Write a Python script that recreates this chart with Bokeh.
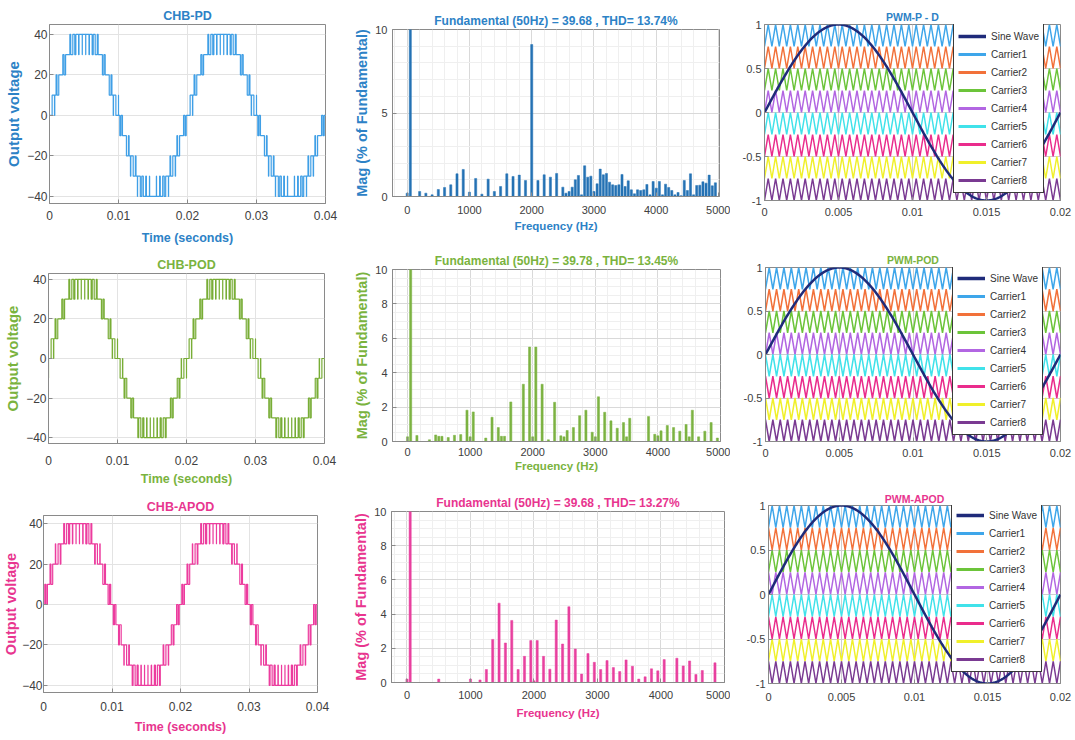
import numpy as np
from bokeh.plotting import figure
from bokeh.layouts import column, row
from bokeh.models import Range1d, FixedTicker, Legend, LegendItem
from bokeh.embed import file_html
from bokeh.resources import INLINE

# ------------------------------------------------------------------ data
chb_titles = ["CHB-PD", "CHB-POD", "CHB-APOD"]
fft_titles = ["Fundamental (50Hz) = 39.68 , THD= 13.74%",
              "Fundamental (50Hz) = 39.78 , THD= 13.45%",
              "Fundamental (50Hz) = 39.68 , THD= 13.27%"]
pwm_titles = ["PWM-P - D", "PWM-POD", "PWM-APOD"]

chb_xlabel = "Time (seconds)"
chb_ylabel = "Output voltage"
fft_xlabel = "Frequency (Hz)"
fft_ylabel = "Mag (% of Fundamental)"

chb_xticks = [0, 0.01, 0.02, 0.03, 0.04]
chb_xtick_labels = ["0", "0.01", "0.02", "0.03", "0.04"]
chb_yticks = [-40, -20, 0, 20, 40]
fft_xticks = [0, 1000, 2000, 3000, 4000, 5000]
fft1_yticks = [0, 5, 10]
fft23_yticks = [0, 2, 4, 6, 8, 10]
pwm_xticks = [0, 0.005, 0.01, 0.015, 0.02]
pwm_xtick_labels = ["0", "0.005", "0.01", "0.015", "0.02"]
pwm_yticks = [-1, -0.5, 0, 0.5, 1]
pwm_ytick_labels = ["-1", "-0.5", "0", "0.5", "1"]

# modulation parameters
fundamental_hz = 50
modulation_index = 1.0
carrier_hz = 2000
level_step_v = 10
sine_name = "Sine Wave"
carrier_names = ["Carrier1", "Carrier2", "Carrier3", "Carrier4",
                 "Carrier5", "Carrier6", "Carrier7", "Carrier8"]
carrier_top = [1.0, 0.75, 0.5, 0.25, 0.0, -0.25, -0.5, -0.75]
carrier_bottom = [0.75, 0.5, 0.25, 0.0, -0.25, -0.5, -0.75, -1.0]
# carrier phase (fraction of a carrier period) for each scheme
pd_phase = [0, 0, 0, 0, 0, 0, 0, 0]
pod_phase = [0, 0, 0, 0, 0.5, 0.5, 0.5, 0.5]
apod_phase = [0, 0.5, 0, 0.5, 0, 0.5, 0, 0.5]

# FFT spectra (% of fundamental)
fft_pd_freq = [0, 50, 200, 300, 400, 500, 600, 700, 800, 900, 1000, 1100, 1200, 1300,
               1400, 1500, 1600, 1700, 1800, 1900, 2000, 2100, 2200, 2300, 2400, 2500,
               2550, 2600, 2650, 2700, 2750, 2800, 2850, 2900, 2950, 3000, 3050, 3100,
               3150, 3200, 3250, 3300, 3350, 3400, 3450, 3500, 3550, 3600, 3650, 3700,
               3750, 3800, 3850, 3900, 3950, 4000, 4050, 4100, 4150, 4200, 4250, 4300,
               4350, 4400, 4450, 4500, 4550, 4600, 4650, 4700, 4750, 4800, 4850, 4900, 4950]
fft_pd_mag = [0.2, 100, 0.3, 0.2, 0.1, 0.42, 0.54, 0.7, 1.36, 1.62, 0.26, 1.08, 0.14, 1.04,
              0.3, 0.6, 1.36, 1.2, 1.28, 0.96, 9.1, 0.96, 1.3, 1.16, 1.38, 0.56,
              0.2, 0.3, 0.56, 1.0, 1.26, 0.1, 1.84, 1.16, 1.22, 0.3, 0.76, 1.64,
              1.3, 1.38, 0.86, 0.7, 0.66, 0.7, 1.32, 0.6, 0.94, 0.4, 0.16, 0.4,
              0.36, 0.4, 0.72, 0.1, 0.9, 0.5, 0.9, 0.1, 0.74, 0.54, 0.36, 0.1,
              0.24, 0.05, 0.96, 0.36, 1.36, 0.1, 0.66, 0.68, 0.88, 0.8, 1.28, 0.64, 0.82]

fft_pod_freq = [0, 50, 150, 350, 450, 500, 550, 650, 750, 850, 950, 1000, 1050, 1250,
                1350, 1450, 1500, 1550, 1650, 1850, 1950, 2000, 2050, 2150, 2250, 2350,
                2450, 2500, 2550, 2650, 2750, 2850, 2950, 3000, 3050, 3150, 3250, 3350,
                3450, 3500, 3550, 3850, 3950, 4000, 4050, 4150, 4250, 4350, 4450, 4500,
                4550, 4650, 4750, 4850, 4950]
fft_pod_mag = [0.27, 100, 0.35, 0.1, 0.38, 0.3, 0.3, 0.23, 0.36, 0.4, 1.82, 0.27, 1.72, 0.2,
               1.41, 0.81, 0.3, 0.3, 2.3, 3.33, 5.49, 0.27, 5.49, 3.33, 0.1, 2.28,
               0.33, 0.27, 0.64, 0.81, 1.5, 1.82, 0.54, 0.27, 2.6, 1.7, 1.2, 0.77,
               1.1, 0.27, 1.35, 1.45, 0.42, 0.33, 0.62, 0.93, 0.81, 0.6, 0.99, 0.27,
               1.82, 0.27, 0.6, 1.1, 0.2]

fft_apod_freq = [0, 50, 500, 1000, 1150, 1250, 1350, 1450, 1550, 1650, 1750, 1850, 1950,
                 2000, 2050, 2150, 2250, 2350, 2450, 2550, 2650, 2750, 2850, 2950, 3050,
                 3150, 3250, 3350, 3450, 3550, 3650, 3750, 3850, 3950, 4050, 4250, 4350,
                 4450, 4550, 4650, 4850]
fft_apod_mag = [0.2, 100, 0.2, 0.2, 0.15, 0.76, 2.52, 4.64, 2.31, 3.63, 0.76, 1.53, 2.45,
                0.1, 2.45, 1.53, 0.78, 3.65, 2.25, 4.43, 1.96, 0.49, 1.69, 1.18, 0.76,
                1.28, 0.87, 0.64, 1.32, 0.95, 0.2, 0.33, 0.8, 0.68, 1.34, 1.42, 0.97,
                1.26, 0.47, 0.7, 1.15]

# ------------------------------------------------------------------ styles
SANS = "Liberation Sans, Arial, sans-serif"
FRAME = "#8a8a8a"
TICK_TEXT = "#404040"
ROW_LINE = ["#3f9fe6", "#78ad36", "#ec3c9e"]
ROW_TEXT = ["#2d82c6", "#7ab33e", "#e8358f"]
ROW_BAR = ["#2572b4", "#7cb342", "#e8409f"]
SINE_COLOR = "#1f2b7a"
CARRIER_COLORS = ["#3ea6ea", "#f2713a", "#6cc43a", "#b266e2",
                  "#40e2ea", "#ea2c8c", "#f0f02a", "#7a3a92"]

COL_W = [350, 380, 343]
ROW_H = [250, 240, 248]
# per panel: frame left, frame top, frame width, frame height (inside its cell)
CHB_BOX = [(49, 24, 276, 179), (48, 23, 276, 170), (43, 25, 274, 177)]
FFT_BOX = [(42, 29, 327, 167), (42, 18, 328, 173), (41, 21, 333, 171)]
PWM_BOX = [(34, 24, 296, 176), (35, 16, 295, 175), (38, 13, 292, 180)]
CHB_YR = [(-43.5, 44.9), (-43, 43), (-43.5, 44)]
FFT_XR = [(-236, 5016), (-240, 5000), (-244, 5000)]
LEGEND_X = [189, 187, 183]
LEGEND_H = 168
# axis spacing: (tick-label standoff, axis-label standoff) per row
CHB_XSTAND = [(7, 8), (12, 4), (9, 6)]
CHB_YSTAND = [(2, 2), (2, 2), (1, 0)]
FFT_XSTAND = [(9, 3), (6, 1), (8, 5)]
PWM_XSTAND = [7, 7, 9]


def carrier_value(t, k, phases):
    x = t * carrier_hz + phases[k]
    tri = 1 - np.abs(2 * (x - np.floor(x)) - 1)
    return carrier_bottom[k] + (carrier_top[k] - carrier_bottom[k]) * tri


def chb_output(t, phases):
    ref = modulation_index * np.sin(2 * np.pi * fundamental_hz * t)
    count = np.zeros(t.shape, dtype=int)
    for k in range(len(carrier_top)):
        count += (ref > carrier_value(t, k, phases)).astype(int)
    return level_step_v * count - level_step_v * len(carrier_top) // 2


def base_fig(r, c, box, xr, yr, title, title_color, title_size, tick_size):
    fl, ft, fw, fh = box
    p = figure(width=COL_W[c], height=ROW_H[r], frame_align=False,
               min_border_left=fl, min_border_top=ft,
               min_border_right=COL_W[c] - fl - fw,
               min_border_bottom=ROW_H[r] - ft - fh,
               x_range=Range1d(*xr), y_range=Range1d(*yr),
               title=title, output_backend="svg", toolbar_location=None,
               background_fill_color="white", border_fill_color="white")
    p.outline_line_color = FRAME
    p.outline_line_width = 1
    p.title.align = "center"
    p.title.standoff = 3
    p.title.text_color = title_color
    p.title.text_font = SANS
    p.title.text_font_size = title_size
    p.title.text_font_style = "bold"
    for ax in (p.xaxis[0], p.yaxis[0]):
        ax.axis_line_color = FRAME
        ax.major_tick_in = 4
        ax.major_tick_out = 0
        ax.minor_tick_in = 0
        ax.minor_tick_out = 0
        ax.major_tick_line_color = FRAME
        ax.major_label_text_color = TICK_TEXT
        ax.major_label_text_font = SANS
        ax.major_label_text_font_size = tick_size
        ax.axis_label_text_font = SANS
        ax.axis_label_text_font_style = "bold"
        ax.axis_label_text_color = title_color
    p.yaxis.major_label_standoff = 3
    p.yaxis.axis_label_standoff = 2
    return p


def set_ticks(axis, grid, ticks, labels=None, minor=None):
    tk = FixedTicker(ticks=ticks, minor_ticks=minor or [])
    axis.ticker = tk
    grid.ticker = tk
    if labels is not None:
        axis.major_label_overrides = {t: l for t, l in zip(ticks, labels)}


phases_all = [pd_phase, pod_phase, apod_phase]
fft_freqs = [fft_pd_freq, fft_pod_freq, fft_apod_freq]
fft_mags = [fft_pd_mag, fft_pod_mag, fft_apod_mag]

rows = []
for r in range(3):
    phases = phases_all[r]

    # ---------------- CHB output voltage
    p1 = base_fig(r, 0, CHB_BOX[r], (0, 0.04), CHB_YR[r], chb_titles[r],
                  ROW_TEXT[r], "12.5px", "12px")
    t = np.linspace(0, 0.04, 40001)
    v = chb_output(t, phases)
    idx = np.concatenate([[0], np.flatnonzero(np.diff(v)) + 1, [len(t) - 1]])
    p1.step(t[idx], v[idx], mode="after", line_color=ROW_LINE[r], line_width=1.2)
    set_ticks(p1.xaxis[0], p1.xgrid[0], chb_xticks, chb_xtick_labels)
    set_ticks(p1.yaxis[0], p1.ygrid[0], chb_yticks)
    p1.xgrid.grid_line_color = "#e3e3e3"
    p1.ygrid.grid_line_color = "#e3e3e3"
    p1.xaxis.axis_label = chb_xlabel
    p1.yaxis.axis_label = chb_ylabel
    p1.xaxis.axis_label_text_font_size = "12.5px"
    p1.yaxis.axis_label_text_font_size = "15px" if r != 2 else "14.5px"
    p1.yaxis.major_label_standoff = CHB_YSTAND[r][0]
    p1.yaxis.axis_label_standoff = CHB_YSTAND[r][1]
    p1.xaxis.major_label_standoff = CHB_XSTAND[r][0]
    p1.xaxis.axis_label_standoff = CHB_XSTAND[r][1]

    # ---------------- FFT spectrum
    p2 = base_fig(r, 1, FFT_BOX[r], FFT_XR[r], (0, 10), fft_titles[r],
                  ROW_TEXT[r], "12px", "11px")
    p2.vbar(x=fft_freqs[r], top=fft_mags[r], width=34, bottom=0,
            fill_color=ROW_BAR[r], line_color=ROW_BAR[r], line_width=0.5)
    set_ticks(p2.xaxis[0], p2.xgrid[0], fft_xticks, None,
              list(range(-200, 5001, 200)))
    if r == 0:
        set_ticks(p2.yaxis[0], p2.ygrid[0], fft1_yticks, None,
                  [1, 2, 3, 4, 6, 7, 8, 9])
    else:
        set_ticks(p2.yaxis[0], p2.ygrid[0], fft23_yticks, None,
                  [0.5 * i for i in range(21) if i % 4 != 0])
    for g in (p2.xgrid, p2.ygrid):
        g.grid_line_color = "#d9d9d9"
        g.minor_grid_line_color = "#efefef"
    p2.xaxis.axis_label = fft_xlabel
    p2.yaxis.axis_label = fft_ylabel
    p2.xaxis.axis_label_text_font_size = "11.5px"
    p2.yaxis.axis_label_text_font_size = "14.5px"
    p2.xaxis.major_label_standoff = FFT_XSTAND[r][0]
    p2.xaxis.axis_label_standoff = FFT_XSTAND[r][1]
    p2.yaxis.major_label_standoff = 5

    # ---------------- PWM carriers and reference
    p3 = base_fig(r, 2, PWM_BOX[r], (0, 0.02), (-1, 1), pwm_titles[r],
                  ROW_TEXT[r], "10.5px", "11px")
    p3.title.standoff = 1 if r == 2 else 3
    p3.xaxis.major_label_standoff = PWM_XSTAND[r]
    tv = np.arange(int(round(0.02 * carrier_hz * 2)) + 1) / (2 * carrier_hz)
    ts = np.linspace(0, 0.02, 401)
    sine = modulation_index * np.sin(2 * np.pi * fundamental_hz * ts)
    carriers = [carrier_value(tv, k, phases) for k in range(len(carrier_names))]
    for k in range(len(carrier_names)):
        p3.line(tv, carriers[k], line_color=CARRIER_COLORS[k], line_width=1.5)
    p3.line(ts, sine, line_color=SINE_COLOR, line_width=2.5)
    set_ticks(p3.xaxis[0], p3.xgrid[0], pwm_xticks, pwm_xtick_labels)
    set_ticks(p3.yaxis[0], p3.ygrid[0], pwm_yticks, pwm_ytick_labels)
    p3.xgrid.grid_line_color = "#cfcfcf"
    p3.ygrid.grid_line_color = "#cfcfcf"
    # legend swatches (hidden twins of the plotted lines with thicker strokes)
    sw = p3.line(ts, sine, line_color=SINE_COLOR, line_width=3.5, visible=False)
    items = [LegendItem(label=sine_name, renderers=[sw])]
    for k, name in enumerate(carrier_names):
        sk = p3.line(tv, carriers[k], line_color=CARRIER_COLORS[k], line_width=3,
                     visible=False)
        items.append(LegendItem(label=name, renderers=[sk]))
    lg = Legend(items=items, location=(LEGEND_X[r], PWM_BOX[r][3] - LEGEND_H - 1),
                glyph_width=28, glyph_height=16,
                label_height=16, spacing=2, padding=4, margin=0, label_standoff=5,
                label_text_font=SANS, label_text_font_size="10px",
                label_text_color="#333333", border_line_color="#3a3a3a",
                border_line_width=1, border_line_alpha=1.0,
                background_fill_color="white", background_fill_alpha=1.0,
                inactive_fill_alpha=0.0, click_policy="none")
    p3.add_layout(lg)

    rows.append(row(p1, p2, p3, spacing=0))

layout = column(*rows, spacing=0)
open("out.html", "w").write(file_html(layout, INLINE))
